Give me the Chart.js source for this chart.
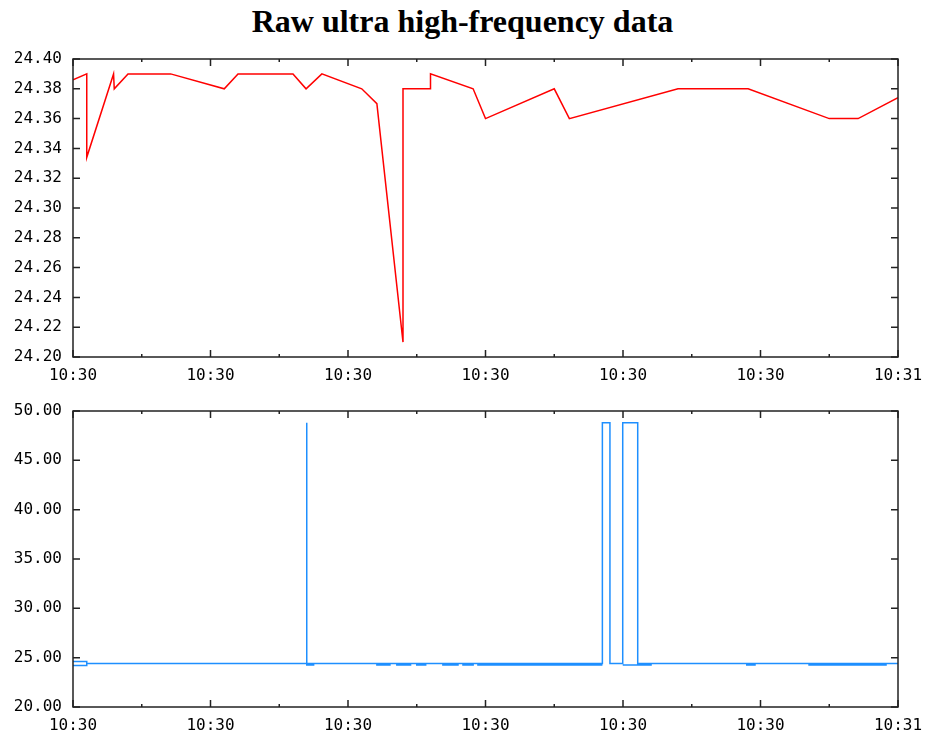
<!DOCTYPE html>
<html>
<head>
<meta charset="utf-8">
<script src="https://cdn.jsdelivr.net/npm/chart.js@4/dist/chart.umd.min.js"></script>
<style>
    body { margin: 0; background: #fff; }
    #page { position: relative; width: 925px; height: 733px; }
    #title {
        position: absolute; left: 0; top: 3px; width: 925px;
        text-align: center; font: bold 32px "Liberation Serif", "Times New Roman", serif;
        color: #000;
    }
    .box { position: absolute; left: 0; width: 925px; }
</style>
</head>
<body>
<div id="page">
    <div id="title">Raw ultra high-frequency data</div>
    <div class="box" style="top:40px;height:352px"><canvas id="tempChart"></canvas></div>
    <div class="box" style="top:392px;height:341px"><canvas id="rawChart"></canvas></div>
</div>
<script>
// 시간축: 10:30:00 부터 초 단위 (0 ~ 60)
const timeMin = 0;
const timeMax = 60;

// 위쪽 그래프 (빨간 선)
const redTimes  = [0, 1.0, 1.0, 2.95, 3.0, 4.0, 7.1, 11.0, 12.0, 16.0, 16.95, 18.1, 21.0, 22.1, 24.0, 24.0, 26.0, 26.0, 29.1, 30.0, 35.0, 36.1, 44.0, 49.1, 55.0, 57.1, 60];
const redValues = [24.386, 24.39, 24.334, 24.39, 24.38, 24.39, 24.39, 24.38, 24.39, 24.39, 24.38, 24.39, 24.38, 24.37, 24.21, 24.38, 24.38, 24.39, 24.38, 24.36, 24.38, 24.36, 24.38, 24.38, 24.36, 24.36, 24.374];

// 아래쪽 그래프 (파란 선), null 은 선 끊기
const blueTimes  = [0, 1.0, 1.0, 0, 0.5,
    1.0, 17.0, 17.0, 17.0, 17.5, 17.5, 17.0,
    22.1, 22.1, 23.05, 23.05, 22.1,
    23.55, 23.55, 24.55, 24.55, 23.55,
    25.0, 25.0, 25.65, 25.65, 25.0,
    26.9, 26.9, 28.0, 28.0, 26.9,
    28.36, 28.36, 29.1, 29.1, 28.36,
    29.45, 29.45, 38.45, 38.45, 29.45,
    38.5, 38.5, 39.05, 39.05, 39.98, 39.98, 41.07, 41.07, 39.98, 40.5,
    41.07, 41.07, 42.04, 42.04, 41.07,
    49.0, 49.0, 49.6, 49.6, 49.0,
    53.53, 53.53, 59.13, 59.13, 53.53,
    60];
const blueValues = [24.2, 24.2, 24.6, 24.6, null,
    24.4, 24.4, 48.8, 24.25, 24.25, 24.4, 24.4,
    24.4, 24.25, 24.25, 24.4, 24.4,
    24.4, 24.25, 24.25, 24.4, 24.4,
    24.4, 24.25, 24.25, 24.4, 24.4,
    24.4, 24.25, 24.25, 24.4, 24.4,
    24.4, 24.25, 24.25, 24.4, 24.4,
    24.4, 24.25, 24.25, 24.4, 24.4,
    24.4, 48.8, 48.8, 24.4, 24.4, 48.8, 48.8, 24.25, 24.25, null,
    24.4, 24.25, 24.25, 24.4, 24.4,
    24.4, 24.25, 24.25, 24.4, 24.4,
    24.4, 24.25, 24.25, 24.4, 24.4,
    24.4];

const tickFont = { family: '"DejaVu Sans Mono", monospace', size: 16 };

function toPoints(times, values) {
    return times.map((t, i) => ({ x: t, y: values[i] }));
}

function timeLabel(v) {
    if (v % 10 !== 0) return '';
    return '10:' + (30 + Math.floor(v / 60));
}

// 테두리 + 안쪽으로 향한 눈금 그리기
const framePlugin = {
    id: 'frame',
    afterDraw(chart) {
        const ctx = chart.ctx;
        const a = chart.chartArea;
        const xs = chart.scales.x;
        const ys = chart.scales.y;
        ctx.save();
        ctx.strokeStyle = '#222';
        ctx.lineWidth = 1.5;
        ctx.strokeRect(a.left, a.top, a.right - a.left, a.bottom - a.top);
        ctx.beginPath();
        xs.ticks.forEach(t => {
            const px = xs.getPixelForValue(t.value);
            const len = t.value % 10 === 0 ? 7 : 3;
            ctx.moveTo(px, a.bottom); ctx.lineTo(px, a.bottom - len);
            ctx.moveTo(px, a.top); ctx.lineTo(px, a.top + len);
        });
        ys.ticks.forEach(t => {
            const py = ys.getPixelForValue(t.value);
            ctx.moveTo(a.left, py); ctx.lineTo(a.left + 7, py);
            ctx.moveTo(a.right, py); ctx.lineTo(a.right - 7, py);
        });
        ctx.stroke();
        ctx.restore();
    }
};

function makeChart(id, points, color, yMin, yMax, yStep, padTop, xHeight) {
    return new Chart(document.getElementById(id), {
        type: 'line',
        data: {
            datasets: [{
                data: points,
                borderColor: color,
                borderWidth: 1.5,
                pointRadius: 0,
                tension: 0,
                fill: false,
                spanGaps: false
            }]
        },
        options: {
            responsive: true,
            maintainAspectRatio: false,
            animation: false,
            layout: { padding: { top: padTop, right: 27, left: 0, bottom: 0 } },
            plugins: { legend: { display: false }, tooltip: { enabled: false } },
            scales: {
                x: {
                    type: 'linear',
                    min: timeMin,
                    max: timeMax,
                    grid: { display: false, drawTicks: false },
                    border: { display: false },
                    ticks: {
                        stepSize: 5,
                        autoSkip: false,
                        maxRotation: 0,
                        padding: 9,
                        color: '#000',
                        font: tickFont,
                        callback: timeLabel
                    },
                    afterFit: s => {
                        s.height = xHeight;
                        s.paddingLeft = 0;
                        s.paddingRight = 0;
                    }
                },
                y: {
                    min: yMin,
                    max: yMax,
                    grid: { display: false, drawTicks: false },
                    border: { display: false },
                    ticks: {
                        stepSize: yStep,
                        padding: 11,
                        color: '#000',
                        font: tickFont,
                        callback: v => Number(v).toFixed(2)
                    },
                    afterFit: s => {
                        s.width = 73;
                        s.paddingTop = 0;
                        s.paddingBottom = 0;
                    }
                }
            }
        },
        plugins: [framePlugin]
    });
}

makeChart('tempChart', toPoints(redTimes, redValues), '#ff0000', 24.2, 24.4, 0.02, 19, 35);
makeChart('rawChart', toPoints(blueTimes, blueValues), '#1e8fff', 20, 50, 5, 19, 26);
</script>
</body>
</html>
